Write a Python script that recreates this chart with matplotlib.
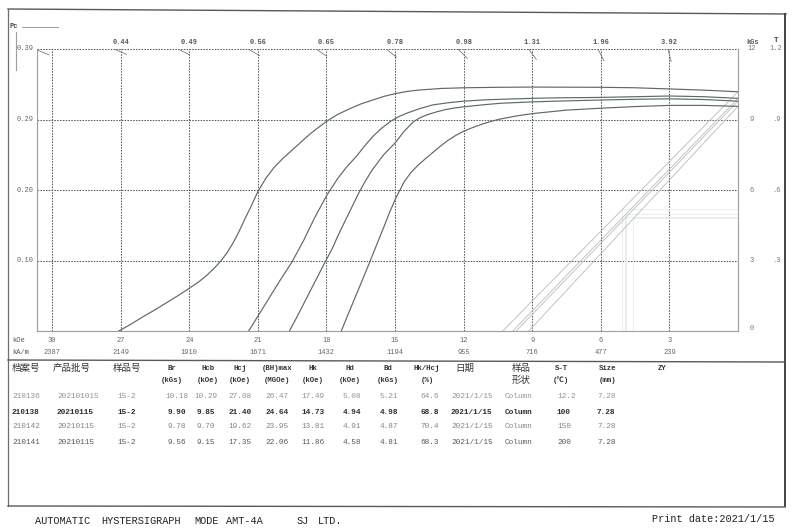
import matplotlib
matplotlib.use("Agg")
import matplotlib.pyplot as plt
from matplotlib.lines import Line2D
import math

W, H = 802, 529
FAM = ['Liberation Mono', 'Noto Sans CJK SC', 'DejaVu Sans']
plt.rcParams['font.family'] = FAM

# ---------------- data ----------------
# demagnetization (intrinsic J-H) curves, H in kOe (reversed), J in kGs
c1_H = [27.08, 26.5, 26.0, 25.5, 25.0, 24.5, 24.0, 23.6, 23.2, 22.9, 22.6, 22.35, 22.1, 21.85, 21.6, 21.3, 21.0, 20.65, 20.3, 19.9, 19.5, 19.1, 18.7, 18.3, 17.95, 17.5, 17.0, 16.5, 16.0, 15.5, 15.0, 14.5, 14.0, 13.0, 12.0, 10.5, 9.0, 6.0, 4.5, 3.0, 1.5, 0.0]
c1_J = [0.0, 0.32, 0.62, 0.9, 1.2, 1.5, 1.82, 2.08, 2.4, 2.68, 3.0, 3.33, 3.72, 4.18, 4.7, 5.3, 5.93, 6.5, 6.95, 7.35, 7.7, 8.05, 8.4, 8.7, 8.95, 9.22, 9.45, 9.66, 9.82, 9.98, 10.1, 10.19, 10.25, 10.32, 10.35, 10.37, 10.38, 10.37, 10.35, 10.3, 10.25, 10.18]
c2_H = [21.40, 21.05, 20.7, 20.35, 20.0, 19.5, 19.0, 18.5, 17.97, 17.5, 17.1, 16.7, 16.35, 16.0, 15.6, 15.15, 14.8, 14.4, 13.9, 13.35, 12.7, 12.0, 11.2, 10.4, 9.0, 8.0, 6.0, 4.5, 3.0, 1.5, 0.0]
c2_J = [0.0, 0.55, 1.1, 1.65, 2.2, 2.95, 3.85, 4.85, 5.8, 6.5, 7.0, 7.42, 7.85, 8.25, 8.62, 8.95, 9.14, 9.3, 9.47, 9.62, 9.71, 9.78, 9.83, 9.86, 9.9, 9.92, 9.94, 9.97, 10.0, 9.97, 9.90]
c3_H = [19.62, 19.3, 19.0, 18.5, 18.05, 17.75, 17.5, 17.0, 16.6, 16.3, 16.0, 15.5, 15.0, 14.6, 14.2, 13.9, 13.6, 13.2, 12.8, 12.4, 12.0, 11.2, 10.4, 9.0, 8.0, 6.0, 4.5, 3.0, 1.5, 0.0]
c3_J = [0.0, 0.58, 1.15, 2.1, 2.95, 3.5, 4.05, 5.05, 5.85, 6.38, 6.85, 7.5, 8.0, 8.5, 8.9, 9.08, 9.2, 9.32, 9.42, 9.49, 9.54, 9.62, 9.69, 9.75, 9.78, 9.83, 9.86, 9.88, 9.85, 9.78]
c4_H = [17.35, 17.1, 16.8, 16.45, 16.1, 15.8, 15.5, 15.25, 14.97, 14.6, 14.3, 14.0, 13.65, 13.34, 13.0, 12.7, 12.35, 12.0, 11.6, 11.2, 10.8, 10.4, 9.7, 9.0, 8.2, 7.5, 6.0, 4.5, 3.0, 1.5, 0.0]
c4_J = [0.0, 0.6, 1.3, 2.12, 2.95, 3.68, 4.4, 5.02, 5.65, 6.35, 6.75, 7.05, 7.35, 7.6, 7.88, 8.1, 8.32, 8.5, 8.66, 8.8, 8.92, 9.02, 9.15, 9.25, 9.33, 9.4, 9.48, 9.55, 9.6, 9.6, 9.56]

ids = ["210136", "210138", "210142", "210141"]
batches = ["202101015", "20210115", "20210115", "20210115"]
samples = ["15-2", "15-2", "15-2", "15-2"]
Br = [10.18, 9.90, 9.78, 9.56]
Hcb = [10.29, 9.85, 9.70, 9.15]
Hcj = [27.08, 21.40, 19.62, 17.35]
BHmax = [26.47, 24.64, 23.95, 22.06]
Hk = [17.49, 14.73, 13.81, 11.86]
Hd = [5.08, 4.94, 4.91, 4.58]
Bd = [5.21, 4.98, 4.87, 4.81]
HkHcj = [64.6, 68.8, 70.4, 68.3]
dates = ["2021/1/15"] * 4
shapes = ["Column"] * 4
ST = ["12.2", "100", "150", "200"]
sizes = ["7.28"] * 4

x_grid = [30, 27, 24, 21, 18, 15, 12, 9, 6, 3]
x_kAm = ["2387", "2149", "1910", "1671", "1432", "1194", "955", "716", "477", "239"]
pc_top = ["0.44", "0.49", "0.56", "0.65", "0.78", "0.98", "1.31", "1.96", "3.92"]
pc_left = ["0.39", "0.29", "0.20", "0.10"]
y_grid = [12, 9, 6, 3]
y_T = ["1.2", ".9", ".6", ".3"]

# ---------------- figure ----------------
fig = plt.figure(figsize=(W / 100, H / 100), dpi=100)
fig.patch.set_facecolor('white')

def fx(x):
    return x / W

def fy(y):
    return 1 - y / H

def ftext(x, y, s, size=5.5, ha='center', va='center', color='#444444', weight='normal'):
    fig.text(fx(x), fy(y), s, ha=ha, va=va, fontsize=size, color=color,
             weight=weight, family=FAM)

def fline(xs, ys, color='#555555', lw=0.8, **kw):
    fig.add_artist(Line2D([fx(v) for v in xs], [fy(v) for v in ys],
                          color=color, lw=lw, transform=fig.transFigure, **kw))

AX_L, AX_R, AX_T, AX_B = 37, 738, 49, 331
ax = fig.add_axes([fx(AX_L), fy(AX_B), (AX_R - AX_L) / W, (AX_B - AX_T) / H])
HMAX = 30.66
ax.set_xlim(HMAX, 0)
ax.set_ylim(0, 12)
ax.set_xticks([])
ax.set_yticks([])
ax.spines['top'].set_visible(False)
for s in ['left', 'bottom', 'right']:
    ax.spines[s].set_color('#9aa0a0')
    ax.spines[s].set_linewidth(0.8)
ax.patch.set_alpha(0)

PXH = (AX_R - AX_L) / HMAX
PXB = (AX_B - AX_T) / 12

grid_kw = dict(color='#5a5f5f', lw=0.75, ls=(0, (1.5, 1.2)), zorder=1)
for h in x_grid:
    ax.plot([h, h], [0, 12], **grid_kw)
for b in y_grid:
    ax.plot([HMAX, 0], [b, b], **grid_kw)

# permeance (load line) ticks at top / left edge
pc_vals = [float(p) for p in pc_left[:1] + pc_top]
for pc in pc_vals:
    h0 = min(12 / pc, HMAX)
    b0 = pc * h0
    L = math.hypot(h0 * PXH, b0 * PXB)
    t = 1 - 13.0 / L
    ax.plot([h0, h0 * t], [b0, b0 * t], color='#777b7b', lw=0.6, zorder=2)

# Hd / Bd marks (faint)
for hd, bd in zip(Hd, Bd):
    ax.plot([hd, hd], [0, bd], color='#e6eaea', lw=0.6, zorder=1)
    ax.plot([hd, 0], [bd, bd], color='#e6eaea', lw=0.6, zorder=1)

# B-H straight lines
for hc, br in zip(Hcb, Br):
    ax.plot([hc, 0], [0, br], color='#b5bcbc', lw=0.6, zorder=2)

# J-H curves
for hh, jj in [(c1_H, c1_J), (c2_H, c2_J), (c3_H, c3_J), (c4_H, c4_J)]:
    ax.plot(hh, jj, color='#5b6a66', lw=0.85, zorder=3, solid_joinstyle='round')

def px_of_H(h):
    return AX_R - PXH * h

def py_of_B(b):
    return AX_B - PXB * b

# ---------------- axis labels ----------------
for h, lab in zip(x_grid[1:], pc_top):
    ftext(px_of_H(h), 43, lab, size=5, color='#555555', weight='bold')
for b, lab in zip(y_grid, pc_left):
    ftext(34, py_of_B(b), lab, size=5, ha='right', color='#666666')
ftext(10, 26, "Pc", size=5, ha='left', color='#444444', weight='bold')
fline([22, 58], [27, 27], color='#8a8f8f', lw=0.6)
fline([16, 16], [32, 70], color='#9aa0a0', lw=0.8)

ftext(753, 42, "kGs", size=5, color='#555555', weight='bold')
ftext(776, 41, "T", size=5.5, color='#444444', weight='bold')
for b, lab in zip(y_grid, y_T):
    ftext(752, py_of_B(b) + (0 if b != 12 else -1), str(b), size=5, color='#777777')
    ftext(776, py_of_B(b) + (0 if b != 12 else -1), lab, size=5, color='#777777')
ftext(752, 329, "0", size=5, color='#777777')

ftext(12, 341, "kOe", size=5, ha='left', color='#555555')
ftext(12, 352, "kA/m", size=5, ha='left', color='#555555')
for h, ka in zip(x_grid, x_kAm):
    ftext(px_of_H(h), 341, str(h), size=5, color='#666666')
    ftext(px_of_H(h), 352, ka, size=5, color='#666666')

# ---------------- table ----------------
hdr_col = '#333333'
ftext(12, 368, "档案号", size=6.8, ha='left', color=hdr_col)
ftext(53, 368, "产品批号", size=6.8, ha='left', color=hdr_col)
ftext(113, 368, "样品号", size=6.8, ha='left', color=hdr_col)
heads = [(172, "Br", "(kGs)"), (208, "Hcb", "(kOe)"), (240, "Hcj", "(kOe)"),
         (277, "(BH)max", "(MGOe)"), (313, "Hk", "(kOe)"), (350, "Hd", "(kOe)"),
         (388, "Bd", "(kGs)"), (427, "Hk/Hcj", "(%)"), (561, "S-T", "(℃)"),
         (608, "Size", "(mm)")]
for x, a, b in heads:
    ftext(x, 368, a, size=5.3, color=hdr_col, weight='bold')
    ftext(x, 380, b, size=5.3, color=hdr_col, weight='bold')
ftext(465, 368, "日期", size=6.8, color=hdr_col)
ftext(521, 368, "样品", size=6.8, color=hdr_col)
ftext(521, 380, "形状", size=6.8, color=hdr_col)
ftext(662, 368, "ZY", size=5.3, color=hdr_col, weight='bold')

row_y = [396, 412, 427, 442]
row_col = ['#8c9494', '#2b2e2e', '#7e8686', '#555a5a']
row_w = ['normal', 'bold', 'normal', 'normal']
for i in range(4):
    y, c, w = row_y[i], row_col[i], row_w[i]
    ftext(12, y, ids[i], size=5.6, ha='left', color=c, weight=w)
    ftext(57, y, batches[i], size=5.6, ha='left', color=c, weight=w)
    ftext(127, y, samples[i], size=5.6, color=c, weight=w)
    ftext(177, y, f"{Br[i]:.2f}", size=5.6, color=c, weight=w)
    ftext(206, y, f"{Hcb[i]:.2f}", size=5.6, color=c, weight=w)
    ftext(240, y, f"{Hcj[i]:.2f}", size=5.6, color=c, weight=w)
    ftext(277, y, f"{BHmax[i]:.2f}", size=5.6, color=c, weight=w)
    ftext(313, y, f"{Hk[i]:.2f}", size=5.6, color=c, weight=w)
    ftext(352, y, f"{Hd[i]:.2f}", size=5.6, color=c, weight=w)
    ftext(389, y, f"{Bd[i]:.2f}", size=5.6, color=c, weight=w)
    ftext(430, y, f"{HkHcj[i]:.1f}", size=5.6, color=c, weight=w)
    ftext(451, y, dates[i], size=5.6, ha='left', color=c, weight=w)
    ftext(505, y, shapes[i], size=5.6, ha='left', color=c, weight=w)
    ftext(557, y, ST[i], size=5.6, ha='left', color=c, weight=w)
    ftext(597, y, sizes[i], size=5.6, ha='left', color=c, weight=w)

# ---------------- page frame ----------------
fline([8, 786], [9, 14], color='#555a5a', lw=1.0)
fline([8, 8], [9, 506], color='#6a6f6f', lw=0.9)
fline([785, 785], [14, 506], color='#333636', lw=1.3)
fline([8, 785], [506, 507], color='#555a5a', lw=1.0)
fline([8, 785], [360, 362], color='#555a5a', lw=1.0)

# ---------------- footer ----------------
foot = [(35, "AUTOMATIC"), (101, "HYSTERSIGRAPH"), (194, "MODE"), (226, "AMT-4A"),
        (297, "SJ"), (318, "LTD.")]
for x, s in foot:
    ftext(x, 521, s, size=7.4, ha='left', color='#222222')
ftext(652, 519, "Print date:2021/1/15", size=7.4, ha='left', color='#222222')

fig.savefig("out.png", dpi=100, facecolor='white')
